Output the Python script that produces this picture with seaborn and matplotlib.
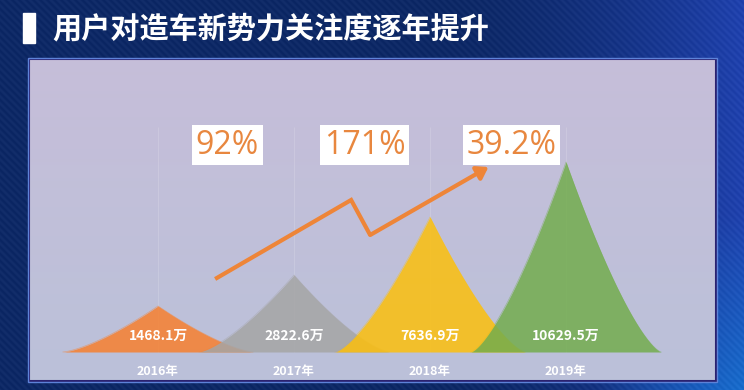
import numpy as np
import pandas as pd
import seaborn as sns
import matplotlib.pyplot as plt
from matplotlib.patches import Rectangle

# 数据
years = ["2016年", "2017年", "2018年", "2019年"]
followers = [1468.1, 2822.6, 7636.9, 10629.5]  # 万
peak_height = [46, 77, 135, 190]  # 图中山峰的高度
growth = ["92%", "171%", "39.2%"]
growth_x = [0.51, 1.52, 2.6]
peak_colors = ["#F7802F", "#A5A5A5", "#FCBF0C", "#73AD4D"]

sns.set_theme(style="white")
plt.rcParams['font.family'] = ['Noto Sans CJK SC', 'DejaVu Sans']

W, H = 744, 390
fig = plt.figure(figsize=(W / 100, H / 100), dpi=100)

# 背景: 深蓝 + 斜条纹
bg = fig.add_axes([0, 0, 1, 1])
bg.axis('off')
xx, yy = np.meshgrid(np.arange(W), np.arange(H))
fx, fy = xx / W, yy / H
dark = np.array([10, 37, 98]) / 255
blue = np.array([28, 62, 170]) / 255
bright = np.array([20, 105, 200]) / 255
t = (np.clip((fx - 0.6) / 0.4, 0, 1) ** 1.5)[..., None]
img = dark * (1 - t) + blue * t
c = (np.clip((fx - 0.8) / 0.2, 0, 1) * np.clip((fy - 0.55) / 0.45, 0, 1))[..., None]
img = img * (1 - c) + bright * c
stripes = 0.5 + 0.5 * np.sin(2 * np.pi * (xx - yy) / 7)
img = np.clip(img + 0.035 * stripes[..., None], 0, 1)
bg.imshow(img, aspect='auto', extent=[0, 1, 0, 1])
bg.set_xlim(0, 1)
bg.set_ylim(0, 1)

# 标题
fig.patches.append(Rectangle((23 / W, 1 - 43 / H), 12 / W, 30 / H,
                             transform=fig.transFigure, color='white'))
fig.text(52 / W, 1 - 28 / H, "用户对造车新势力关注度逐年提升", color='white',
         fontsize=21, fontweight='bold', ha='left', va='center')

# 面板
ax = fig.add_axes([29 / W, 1 - 381 / H, 687 / W, 322 / H])
xlim = ((29 - 158) / 136, (716 - 158) / 136)
ylim = (-29, 293)
grad = np.linspace(0, 1, 100)[:, None, None]
top_c = np.array([198, 190, 217]) / 255
bot_c = np.array([187, 193, 217]) / 255
ax.imshow(top_c * (1 - grad) + bot_c * grad, extent=[*xlim, *ylim],
          aspect='auto', zorder=0)
ax.set_xlim(*xlim)
ax.set_ylim(*ylim)

ax.vlines(range(len(years)), 0, 225, color='white', alpha=0.15, lw=0.8, zorder=0.5)

# 山峰
rows = []
for i, (yr, h) in enumerate(zip(years, peak_height)):
    dx = np.linspace(-0.7, 0.7, 281)
    rows.append(pd.DataFrame({'x': i + dx,
                              'y': h * (1 - np.abs(dx) / 0.7) ** 1.4,
                              'year': yr}))
curves = pd.concat(rows, ignore_index=True)
sns.lineplot(data=curves, x='x', y='y', hue='year', palette=peak_colors,
             sort=False, estimator=None, legend=False, lw=0.5, alpha=0.5,
             ax=ax, zorder=1)
for k, ((yr, g), col) in enumerate(zip(curves.groupby('year', sort=False), peak_colors)):
    ax.fill_between(g['x'], 0, g['y'], color=col, alpha=0.85, lw=0, zorder=2 + k)

for i, (yr, v) in enumerate(zip(years, followers)):
    ax.text(i, 16, f"{v:.1f}万", ha='center', va='center', color='white',
            fontsize=10, fontweight='bold', zorder=10)
    ax.text(i, -19, yr, ha='center', va='center', color='white',
            fontsize=9, fontweight='bold', zorder=10)

# 增长率
for x, g in zip(growth_x, growth):
    ax.text(x, 207, g, ha='center', va='center', fontsize=23, color='#E8873F',
            family=['Open Sans', 'DejaVu Sans'],
            bbox=dict(boxstyle='square,pad=0.12', fc='white', ec='none'), zorder=12)

# 折线箭头
arrow_c = '#EE8538'
ax.plot([0.42, 1.42, 1.56], [73, 152, 117], color=arrow_c, lw=3,
        solid_joinstyle='miter', solid_capstyle='butt', zorder=11)
ax.annotate('', xy=(2.43, 185), xytext=(1.56, 117),
            arrowprops=dict(arrowstyle='-|>,head_length=0.6,head_width=0.4',
                            lw=3, color=arrow_c, shrinkA=0, shrinkB=0,
                            mutation_scale=11), zorder=11)

ax.set_xlabel('')
ax.set_ylabel('')
ax.set_xticks([])
ax.set_yticks([])
for s in ax.spines.values():
    s.set_color('#2a2270')
    s.set_linewidth(1.5)
fig.patches.append(Rectangle((28 / W, 1 - 382 / H), 689 / W, 324 / H,
                             transform=fig.transFigure, fill=False,
                             ec='#5d82d8', lw=1))

fig.savefig('out.png', dpi=100)
